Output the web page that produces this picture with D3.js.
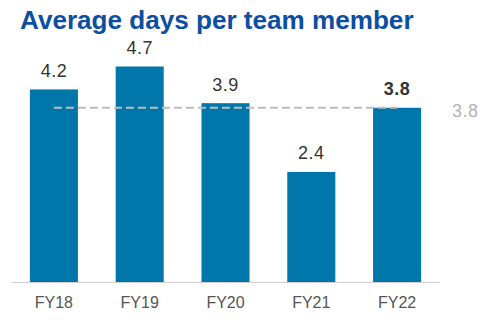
<!DOCTYPE html>
<html>
<head>
<meta charset="utf-8">
<script src="https://cdn.jsdelivr.net/npm/d3@7"></script>
<style>
  html, body { margin: 0; padding: 0; background: #fff; }
  svg { display: block; font-family: "Liberation Sans", Arial, Helvetica, sans-serif; }
</style>
</head>
<body>
<svg id="chart" width="482" height="323"></svg>
<script>
// Average days per team member, by fiscal year
const years = ["FY18", "FY19", "FY20", "FY21", "FY22"];
const days = [4.2, 4.7, 3.9, 2.4, 3.8];
const averageDays = 3.8;
const highlightYear = "FY22";

const svg = d3.select("#chart");

const x = d3.scaleBand()
  .domain(years)
  .range([11, 440])
  .paddingInner(0.44)
  .paddingOuter(0.22);

const y = d3.scaleLinear()
  .domain([0, 5])
  .range([282, 282 - 5 * 45.85]);

// Title
svg.append("text")
  .attr("x", 20)
  .attr("y", 28.5)
  .attr("fill", "#0b4ea2")
  .attr("font-size", 26.1)
  .attr("font-weight", "bold")
  .text("Average days per team member");

// Bars
svg.append("g")
  .selectAll("rect")
  .data(years)
  .join("rect")
  .attr("x", d => x(d))
  .attr("width", x.bandwidth())
  .attr("y", (d, i) => y(days[i]))
  .attr("height", (d, i) => y(0) - y(days[i]))
  .attr("fill", "#0076aa");

// Baseline
svg.append("line")
  .attr("x1", 11).attr("x2", 440)
  .attr("y1", y(0) + 0.5).attr("y2", y(0) + 0.5)
  .attr("stroke", "#cfcfcf")
  .attr("stroke-width", 1.2);

// Average reference line
const xFirst = x(years[0]) + x.bandwidth() / 2;
const xLast = x(years[years.length - 1]) + x.bandwidth() / 2;
svg.append("line")
  .attr("x1", xFirst).attr("x2", xLast)
  .attr("y1", y(averageDays)).attr("y2", y(averageDays))
  .attr("stroke", "#bdbdbd")
  .attr("stroke-width", 2)
  .attr("stroke-dasharray", "8,4");

svg.append("text")
  .attr("x", 452)
  .attr("y", y(averageDays) + 9)
  .attr("fill", "#b3b3b3")
  .attr("font-size", 18)
  .attr("letter-spacing", 0.5)
  .text(d3.format(".1f")(averageDays));

// Value labels
svg.append("g")
  .selectAll("text")
  .data(years)
  .join("text")
  .attr("x", d => x(d) + x.bandwidth() / 2)
  .attr("y", (d, i) => y(days[i]) - 12.5)
  .attr("text-anchor", "middle")
  .attr("fill", "#333")
  .attr("font-size", 18)
  .attr("letter-spacing", 0.5)
  .attr("font-weight", d => d === highlightYear ? "bold" : "normal")
  .text((d, i) => d3.format(".1f")(days[i]));

// Category axis
const xAxis = svg.append("g")
  .attr("transform", `translate(0, ${y(0)})`)
  .call(d3.axisBottom(x).tickSize(0).tickPadding(15));
xAxis.select(".domain").remove();
xAxis.selectAll("text")
  .attr("font-size", 16)
  .attr("font-family", "Liberation Sans, Arial, sans-serif")
  .attr("fill", "#555")
  .attr("dy", "0.71em");
</script>
</body>
</html>
